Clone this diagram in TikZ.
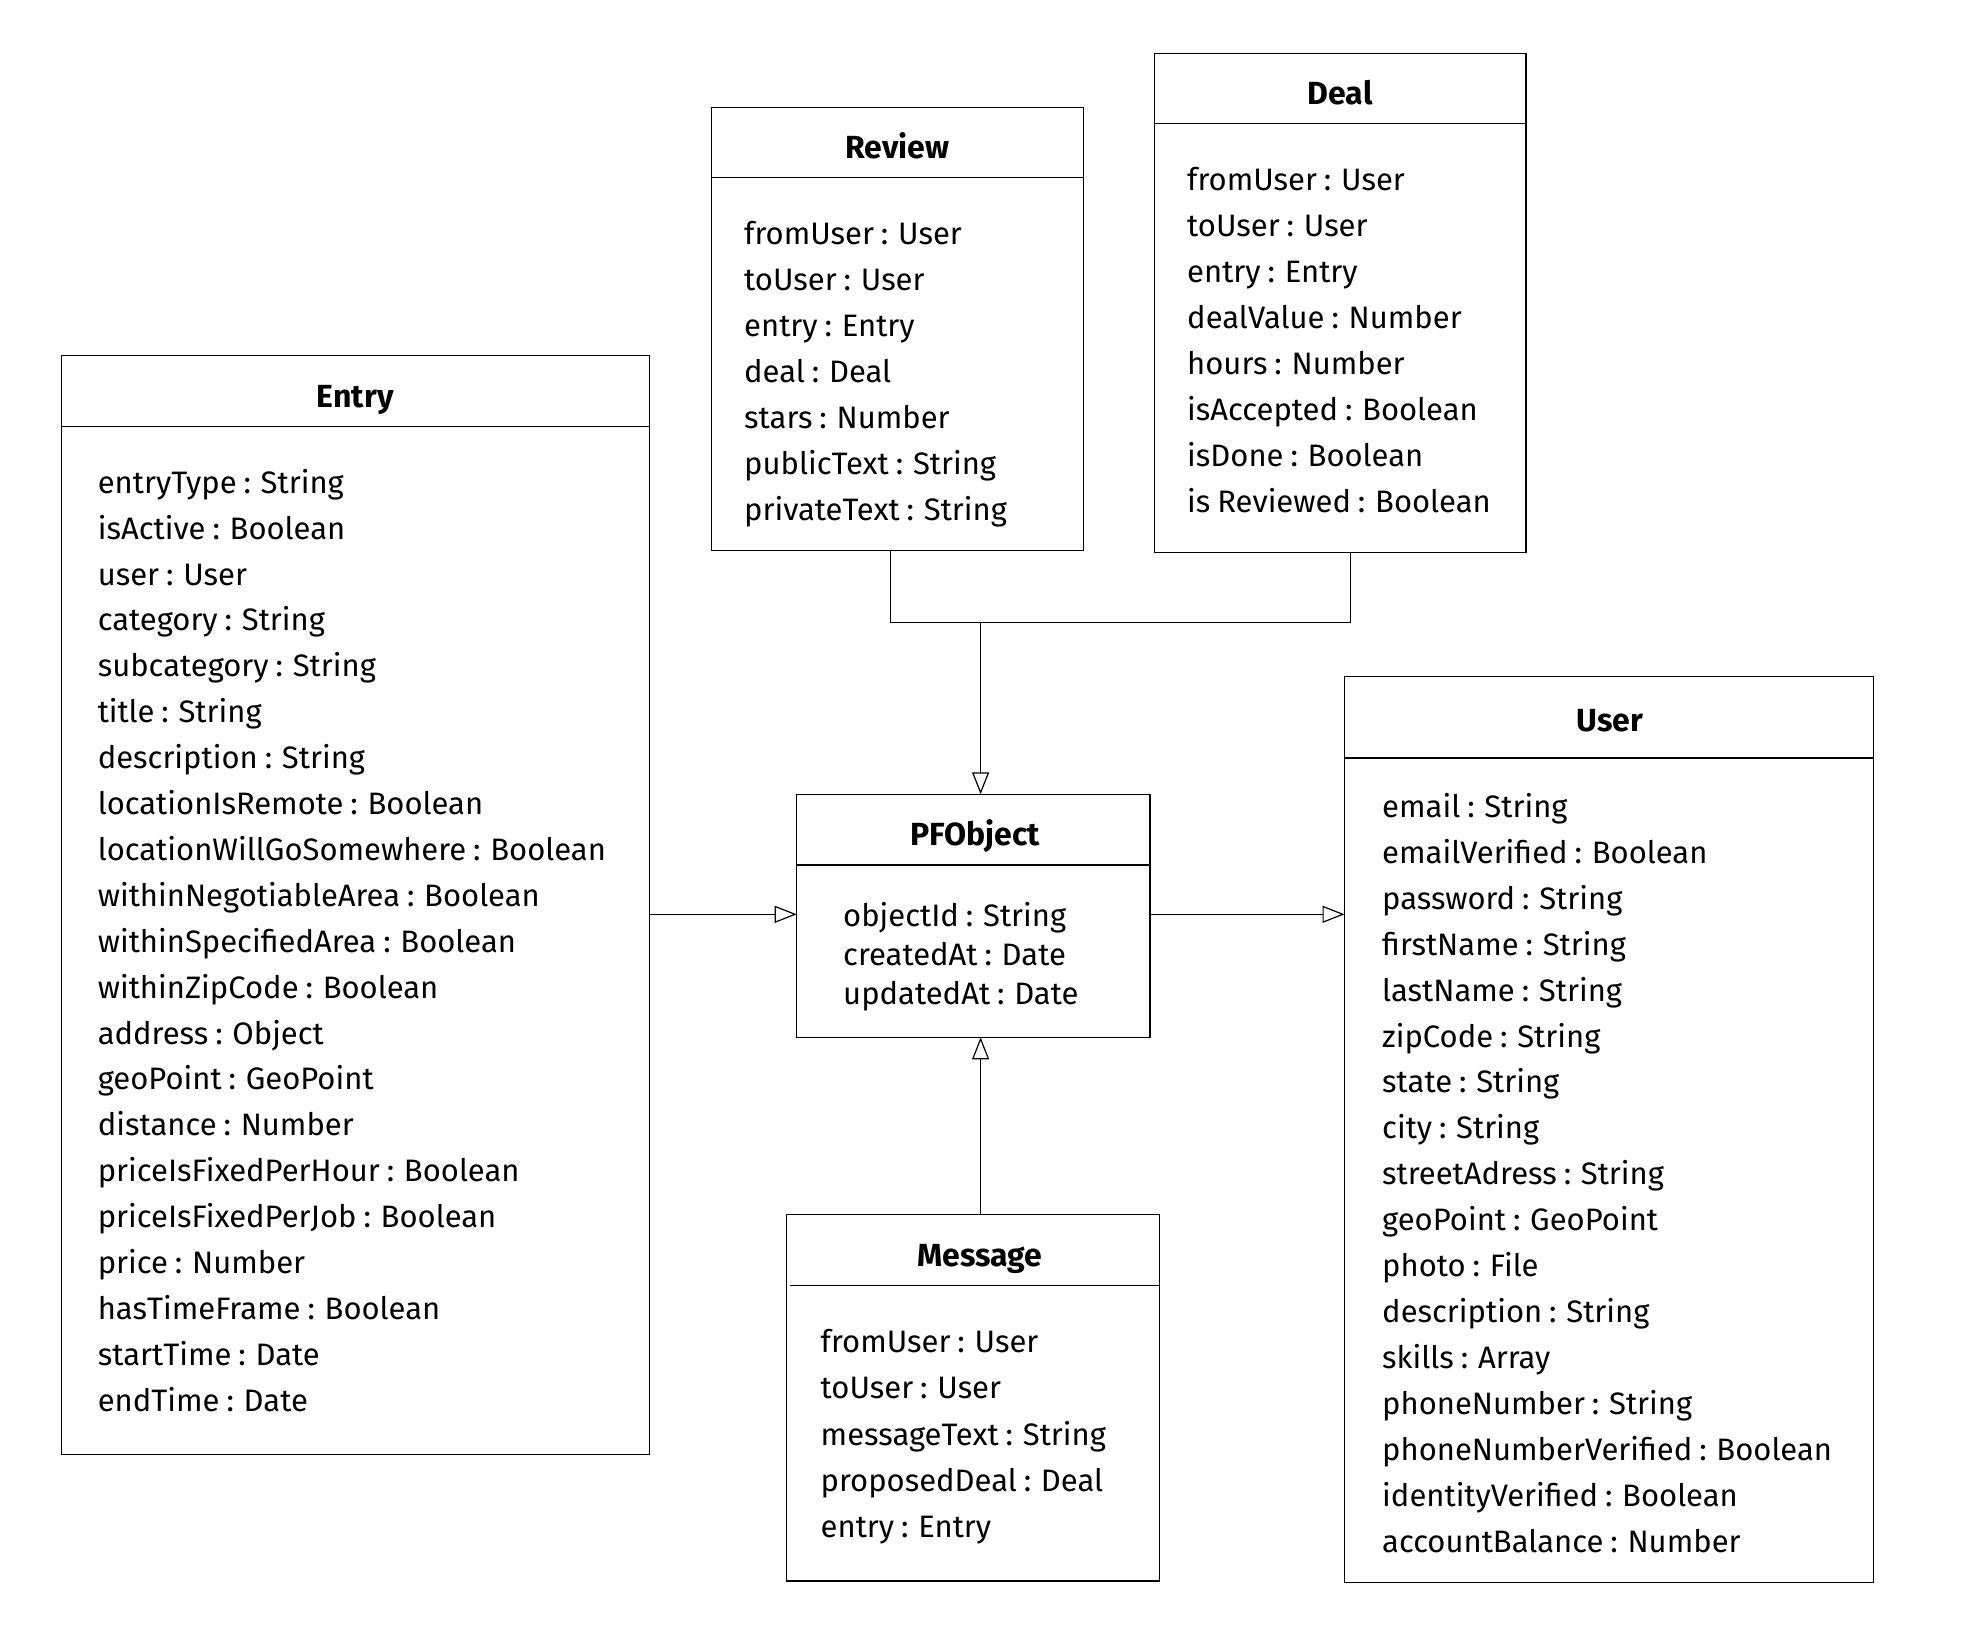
\documentclass[tikz,border=0pt]{standalone}
\usepackage{fontspec}
\setmainfont{Fira Sans}[WordSpace=0.85]
\usetikzlibrary{arrows.meta}
\begin{document}
\begin{tikzpicture}[x=1pt,y=-1pt,
  classbox/.style={draw, line width=1.2pt, anchor=north west, inner sep=0pt, outer sep=0pt},
  divline/.style={line width=1.2pt},
  ctitle/.style={anchor=base, inner sep=0pt, font=\fontsize{32}{38}\selectfont\bfseries},
  attr/.style={anchor=base west, inner sep=0pt, font=\fontsize{31}{37}\selectfont},
  conn/.style={line width=1.2pt},
  inh/.style={line width=1.2pt, -{Triangle[open, length=22pt, width=17pt, line width=1.2pt]}}]
\useasboundingbox (0,0) rectangle (1961,1641);

% ---------- Entry ----------
\node[classbox, minimum width=587.8pt, minimum height=1099.3pt] (entry) at (61.3,355.2) {};
\draw[divline] (61.3,426.5) -- (649.1,426.5);
\node[ctitle] (entryT) at (355.2,407) {Entry};
\foreach \t [count=\i from 0] in {entryType : String, isActive : Boolean, user : User, category : String, subcategory : String, title : String, description : String, locationIsRemote : Boolean, locationWillGoSomewhere : Boolean, withinNegotiableArea : Boolean, withinSpecifiedArea : Boolean, withinZipCode : Boolean, address : Object, geoPoint : GeoPoint, distance : Number, priceIsFixedPerHour : Boolean, priceIsFixedPerJob : Boolean, price : Number, hasTimeFrame : Boolean, startTime : Date, endTime : Date}
  \node[attr] (entry\i) at (97.6,{493.2+45.9*\i}) {\t};

% ---------- Review ----------
\node[classbox, minimum width=371.5pt, minimum height=442.7pt] (review) at (711.6,107.6) {};
\draw[divline] (711.6,177.6) -- (1083.1,177.6);
\node[ctitle] (reviewT) at (897.4,158) {Review};
\foreach \t [count=\i from 0] in {fromUser : User, toUser : User, entry : Entry, deal : Deal, stars : Number, publicText : String, privateText : String}
  \node[attr] (review\i) at (744,{244.3+46.07*\i}) {\t};

% ---------- Deal ----------
\node[classbox, minimum width=371.5pt, minimum height=499pt] (deal) at (1154.4,53.8) {};
\draw[divline] (1154.4,123.8) -- (1525.9,123.8);
\node[ctitle] (dealT) at (1340.2,104.3) {Deal};
\foreach \t [count=\i from 0] in {fromUser : User, toUser : User, entry : Entry, dealValue : Number, hours : Number, isAccepted : Boolean, isDone : Boolean, is Reviewed : Boolean}
  \node[attr] (deal\i) at (1187,{190.6+45.92*\i}) {\t};

% ---------- PFObject ----------
\node[classbox, minimum width=353.2pt, minimum height=243pt] (pfobject) at (796.7,794.3) {};
\draw[divline] (796.7,865) -- (1149.9,865);
\node[ctitle] (pfobjectT) at (975,845) {PFObject};
\foreach \t [count=\i from 0] in {objectId : String, createdAt : Date, updatedAt : Date}
  \node[attr] (pfobject\i) at (843,{926.7+38.8*\i}) {\t};

% ---------- User ----------
\node[classbox, minimum width=529pt, minimum height=905.5pt] (user) at (1344.5,676.6) {};
\draw[divline] (1344.5,757.9) -- (1873.5,757.9);
\node[ctitle] (userT) at (1610,731) {User};
\foreach \t [count=\i from 0] in {email : String, emailVerified : Boolean, password : String, firstName : String, lastName : String, zipCode : String, state : String, city : String, streetAdress : String, geoPoint : GeoPoint, photo : File, description : String, skills : Array, phoneNumber : String, phoneNumberVerified : Boolean, identityVerified : Boolean, accountBalance : Number}
  \node[attr] (user\i) at (1382,{817.2+45.96*\i}) {\t};

% ---------- Message ----------
\node[classbox, minimum width=372.7pt, minimum height=366.5pt] (message) at (786.7,1214.4) {};
\draw[divline] (789.5,1285.7) -- (1159.4,1285.7);
\node[ctitle] (messageT) at (980,1266.2) {Message};
\foreach \t [count=\i from 0] in {fromUser : User, toUser : User, messageText : String, proposedDeal : Deal, entry : Entry}
  \node[attr] (message\i) at (820.5,{1352.5+46.3*\i}) {\t};

% ---------- connectors ----------
\coordinate (rvx) at (890.5,0);
\coordinate (dlx) at (1350.8,0);
\coordinate (j) at (980.6,622.8);
\coordinate (ay) at (0,914.3);
\draw[conn] (review.south -| rvx) |- (j) -| (deal.south -| dlx);
\draw[inh] (j) -- (pfobject.north -| j);
\draw[inh] (entry.east |- ay) -- (pfobject.west |- ay);
\draw[inh] (pfobject.east |- ay) -- (user.west |- ay);
\draw[inh] (message.north -| j) -- (pfobject.south -| j);
\end{tikzpicture}
\end{document}
